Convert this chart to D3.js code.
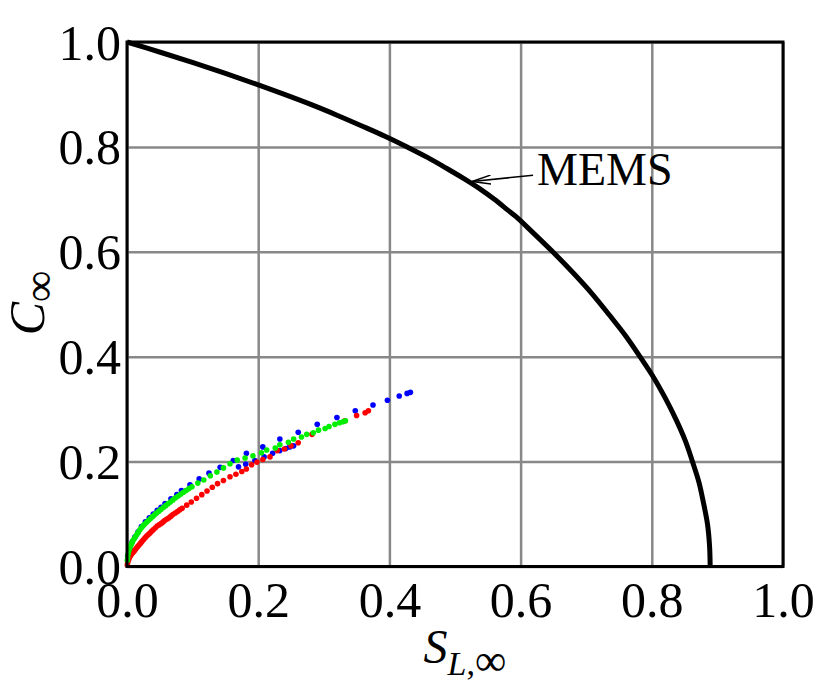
<!DOCTYPE html>
<html>
<head>
<meta charset="utf-8">
<script src="https://cdn.jsdelivr.net/npm/d3@7"></script>
<style>
  body { margin: 0; background: #fff; }
  text { font-family: "Liberation Serif", "DejaVu Serif", serif; }
</style>
</head>
<body>
<svg id="chart" width="822" height="685"></svg>
<script>
// tick values for both axes
const xTicks = [0, 0.2, 0.4, 0.6, 0.8, 1.0];
const yTicks = [0, 0.2, 0.4, 0.6, 0.8, 1.0];

// MEMS boundary curve (S_L, C)
const memsS = [0, 0.052, 0.102, 0.150, 0.196, 0.240, 0.282, 0.321, 0.358, 0.394, 0.427, 0.458, 0.486, 0.513, 0.538, 0.560, 0.580, 0.593,
               0.616, 0.649, 0.680, 0.709, 0.735, 0.760, 0.782, 0.803, 0.821, 0.837, 0.851, 0.862, 0.872, 0.879, 0.885, 0.888, 0.889];
const memsC = [1.0, 0.98, 0.96, 0.94, 0.92, 0.90, 0.88, 0.86, 0.84, 0.82, 0.80, 0.78, 0.76, 0.74, 0.72, 0.70, 0.68, 0.667,
               0.64, 0.60, 0.56, 0.52, 0.48, 0.44, 0.40, 0.36, 0.32, 0.28, 0.24, 0.20, 0.16, 0.12, 0.08, 0.04, 0.0];

// blue points (upper branch and short lower branch)
const blueS = [0.001, 0.004, 0.008, 0.012, 0.017, 0.022, 0.028, 0.034, 0.040, 0.046, 0.052, 0.058, 0.067, 0.076, 0.083, 0.096, 0.110, 0.125, 0.142, 0.162, 0.182, 0.207, 0.233, 0.261, 0.290, 0.320, 0.348, 0.375, 0.397, 0.415, 0.427, 0.432,
               0.170, 0.181, 0.195, 0.209, 0.222, 0.233, 0.242, 0.248, 0.254];
const blueC = [0.020, 0.035, 0.047, 0.056, 0.066, 0.076, 0.085, 0.093, 0.100, 0.107, 0.113, 0.120, 0.129, 0.137, 0.145, 0.156, 0.167, 0.178, 0.189, 0.202, 0.216, 0.228, 0.243, 0.256, 0.271, 0.284, 0.297, 0.308, 0.317, 0.325, 0.330, 0.332,
               0.190, 0.195, 0.202, 0.209, 0.216, 0.221, 0.225, 0.228, 0.230];

// green points
const greenS = [0.0005, 0.001, 0.002, 0.003, 0.0045, 0.006, 0.0075, 0.009, 0.011, 0.013, 0.015, 0.017, 0.0195, 0.022, 0.0245, 0.027, 0.030, 0.033, 0.036, 0.039, 0.042, 0.045, 0.0485, 0.052, 0.0555, 0.059, 0.0625, 0.066, 0.070, 0.074, 0.078, 0.082, 0.086, 0.090, 0.0945, 0.099, 0.108, 0.117, 0.127, 0.137, 0.147, 0.157, 0.168, 0.180, 0.192, 0.205, 0.213, 0.226, 0.233, 0.246, 0.254, 0.266, 0.274, 0.284, 0.292, 0.302, 0.308, 0.317, 0.324, 0.329, 0.333];
const greenC = [0.012, 0.018, 0.025, 0.031, 0.036, 0.041, 0.045, 0.049, 0.053, 0.057, 0.061, 0.065, 0.0695, 0.074, 0.0775, 0.081, 0.0845, 0.088, 0.0915, 0.095, 0.0985, 0.102, 0.1055, 0.109, 0.1125, 0.116, 0.1195, 0.123, 0.127, 0.131, 0.1345, 0.138, 0.1415, 0.145, 0.1485, 0.152, 0.159, 0.165, 0.173, 0.180, 0.188, 0.196, 0.203, 0.207, 0.211, 0.217, 0.222, 0.226, 0.232, 0.237, 0.243, 0.247, 0.252, 0.255, 0.260, 0.263, 0.267, 0.271, 0.274, 0.276, 0.278];

// red points
const redS = [0.0005, 0.001, 0.002, 0.003, 0.004, 0.0055, 0.007, 0.0085, 0.010, 0.0115, 0.013, 0.015, 0.017, 0.019, 0.021, 0.023, 0.025, 0.0275, 0.030, 0.0325, 0.035, 0.0375, 0.040, 0.043, 0.046, 0.049, 0.052, 0.055, 0.058, 0.061, 0.064, 0.067, 0.070, 0.0735, 0.077, 0.0805, 0.084, 0.091, 0.098, 0.106, 0.114, 0.122, 0.130, 0.138, 0.147, 0.157, 0.166, 0.175, 0.182, 0.190, 0.198, 0.207, 0.218, 0.229, 0.240, 0.250, 0.261, 0.282, 0.332, 0.350, 0.363, 0.368];
const redC = [0.003, 0.007, 0.012, 0.015, 0.018, 0.021, 0.024, 0.026, 0.028, 0.0305, 0.033, 0.036, 0.039, 0.042, 0.045, 0.048, 0.051, 0.0545, 0.058, 0.061, 0.064, 0.067, 0.070, 0.0735, 0.077, 0.0795, 0.082, 0.085, 0.088, 0.0905, 0.093, 0.096, 0.099, 0.102, 0.105, 0.108, 0.111, 0.117, 0.123, 0.130, 0.137, 0.144, 0.151, 0.158, 0.164, 0.171, 0.176, 0.181, 0.186, 0.194, 0.199, 0.204, 0.209, 0.221, 0.224, 0.230, 0.236, 0.252, 0.278, 0.288, 0.293, 0.297];

// annotation (data units)
const memsLabel = "MEMS";
const labelPos = [0.625, 0.727];
const arrowFrom = [0.619, 0.746];
const arrowTo = [0.526, 0.734];

const margin = {top: 42, right: 39, bottom: 118.5, left: 127};
const width = 822 - margin.left - margin.right,
      height = 685 - margin.top - margin.bottom;

const svg = d3.select("svg#chart");
const g = svg.append("g").attr("transform", `translate(${margin.left},${margin.top})`);

const x = d3.scaleLinear().domain([0, 1]).range([0, width]);
const y = d3.scaleLinear().domain([0, 1]).range([height, 0]);

// grid
g.append("g")
    .attr("transform", `translate(0,${height})`)
    .call(d3.axisBottom(x).tickValues(xTicks).tickSize(-height).tickFormat(""))
    .call(a => a.select(".domain").remove())
    .selectAll("line").attr("stroke", "#888").attr("stroke-width", 2.5);

g.append("g")
    .call(d3.axisLeft(y).tickValues(yTicks).tickSize(-width).tickFormat(""))
    .call(a => a.select(".domain").remove())
    .selectAll("line").attr("stroke", "#888").attr("stroke-width", 2.5);

// tick labels
const xAxis = g.append("g")
    .attr("transform", `translate(0,${height})`)
    .call(d3.axisBottom(x).tickValues(xTicks).tickSize(0).tickPadding(14).tickFormat(d3.format(".1f")));
xAxis.select(".domain").remove();
xAxis.selectAll("text").attr("font-size", 50).attr("fill", "#000")
    .style("font-family", '"Liberation Serif", serif').attr("dy", "0.72em");

const yAxis = g.append("g")
    .call(d3.axisLeft(y).tickValues(yTicks).tickSize(0).tickPadding(6).tickFormat(d3.format(".1f")));
yAxis.select(".domain").remove();
yAxis.selectAll("text").attr("font-size", 50).attr("fill", "#000")
    .style("font-family", '"Liberation Serif", serif').attr("dy", "0.34em");

// MEMS curve
const mems = memsS.map((s, i) => [s, memsC[i]]);
const line = d3.line().x(d => x(d[0])).y(d => y(d[1])).curve(d3.curveCatmullRom.alpha(0.5));
g.append("path")
    .datum(mems)
    .attr("d", line)
    .attr("fill", "none")
    .attr("stroke", "#000")
    .attr("stroke-width", 5);

// scatter points
function drawDots(sArr, cArr, color) {
    g.append("g")
        .selectAll("circle")
        .data(sArr.map((s, i) => [s, cArr[i]]))
        .join("circle")
        .attr("cx", d => x(d[0]))
        .attr("cy", d => y(d[1]))
        .attr("r", 2.8)
        .attr("fill", color);
}
drawDots(blueS, blueC, "#0000ff");
drawDots(redS, redC, "#ff0000");
drawDots(greenS, greenC, "#00ee00");

// frame
g.append("rect")
    .attr("width", width).attr("height", height)
    .attr("fill", "none").attr("stroke", "#000").attr("stroke-width", 3);

// annotation arrow
svg.append("defs").append("marker")
    .attr("id", "arrowhead")
    .attr("viewBox", "0 0 20 10")
    .attr("refX", 19).attr("refY", 5)
    .attr("markerWidth", 20).attr("markerHeight", 10)
    .attr("markerUnits", "userSpaceOnUse")
    .attr("orient", "auto")
    .append("path")
    .attr("d", "M0,0.5 L19,5 L0,9.5")
    .attr("fill", "none").attr("stroke", "#000").attr("stroke-width", 1.4);

g.append("line")
    .attr("x1", x(arrowFrom[0])).attr("y1", y(arrowFrom[1]))
    .attr("x2", x(arrowTo[0])).attr("y2", y(arrowTo[1]))
    .attr("stroke", "#000").attr("stroke-width", 1.6)
    .attr("marker-end", "url(#arrowhead)");

g.append("text")
    .attr("x", x(labelPos[0])).attr("y", y(labelPos[1]))
    .attr("font-size", 46)
    .text(memsLabel);

// axis labels
const xl = svg.append("text")
    .attr("x", 465).attr("y", 663)
    .attr("text-anchor", "middle")
    .attr("font-size", 48);
xl.append("tspan").attr("font-style", "italic").text("S");
xl.append("tspan").attr("font-style", "italic").attr("font-size", 34).attr("dy", 12).text("L");
xl.append("tspan").attr("font-size", 34).text(",");
xl.append("tspan").attr("font-size", 44).text("∞");

const yl = svg.append("text")
    .attr("transform", "translate(44,303) rotate(-90)")
    .attr("text-anchor", "middle")
    .attr("font-size", 50);
yl.append("tspan").attr("font-style", "italic").text("C");
yl.append("tspan").attr("font-size", 44).attr("dy", 10).text("∞");
</script>
</body>
</html>
